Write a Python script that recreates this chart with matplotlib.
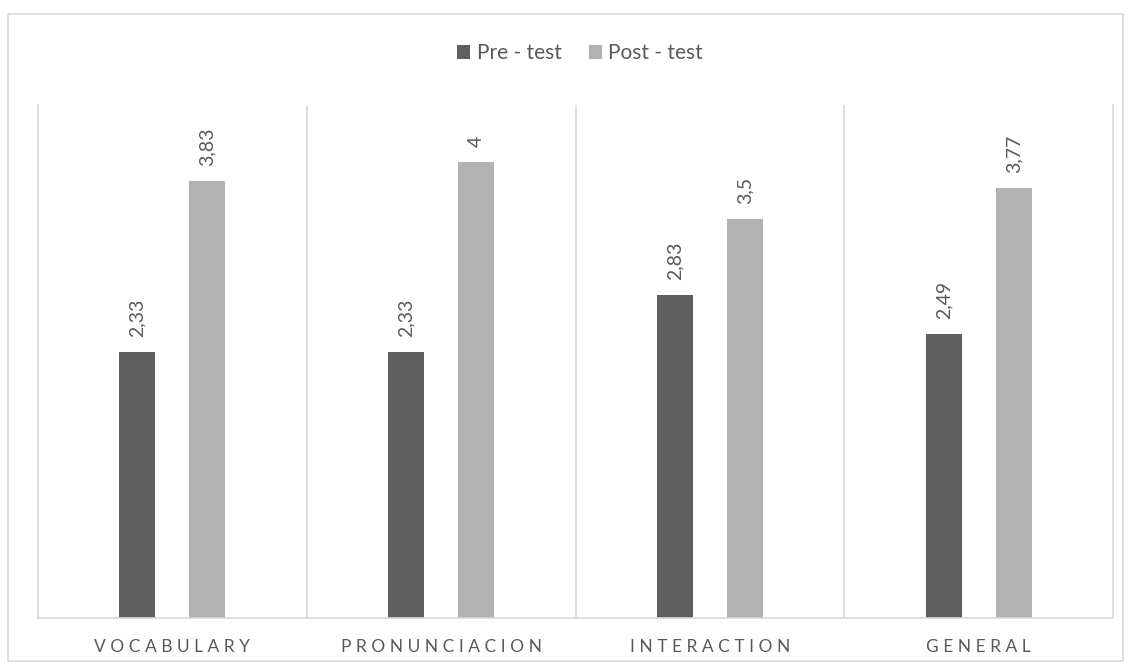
import numpy as np
import matplotlib
matplotlib.use("Agg")
import matplotlib.pyplot as plt
from matplotlib.patches import Rectangle

plt.rcParams["font.family"] = ["Lato", "DejaVu Sans"]

categories = ["VOCABULARY", "PRONUNCIACION", "INTERACTION", "GENERAL"]
pre_test = [2.33, 2.33, 2.83, 2.49]
post_test = [3.83, 4.0, 3.5, 3.77]
series_names = ["Pre - test", "Post - test"]

DARK = "#5f5f5f"
LIGHT = "#b2b2b2"
GRID = "#d9d9d9"
TEXT = "#595959"

W, H = 1131, 669
fig = plt.figure(figsize=(W / 100, H / 100), dpi=100)

# chart border
fig.patches.append(Rectangle((8 / W, 1 - 661 / H), 1115 / W, 647 / H,
                             transform=fig.transFigure, fill=False,
                             edgecolor=GRID, linewidth=1.2))

ax = fig.add_axes([38 / W, 1 - 618 / H, 1075 / W, 513 / H])
x = np.arange(len(categories))
bw = 0.134
off = 0.13
b1 = ax.bar(x - off, pre_test, bw, color=DARK, label=series_names[0], zorder=2)
b2 = ax.bar(x + off, post_test, bw, color=LIGHT, label=series_names[1], zorder=2)

def fmt(v):
    s = f"{v:.2f}".rstrip("0").rstrip(".")
    return s.replace(".", ",")

for bars, vals in [(b1, pre_test), (b2, post_test)]:
    for rect, v in zip(bars, vals):
        ax.annotate(fmt(v), (rect.get_x() + rect.get_width() / 2, v),
                    xytext=(0, 11), textcoords="offset points",
                    rotation=90, ha="center", va="bottom",
                    fontsize=14, color=TEXT)

ax.set_xlim(-0.5, len(categories) - 0.5)
ax.set_ylim(0, 4.5)
ax.set_yticks([])
ax.set_xticks(x)
ax.set_xticklabels([" ".join(c) for c in categories], fontsize=12.5, color=TEXT)
ax.tick_params(axis="x", length=0, pad=15)
for s in x[:-1]:
    ax.axvline(s + 0.5, color=GRID, linewidth=1.2, zorder=1)
ax.spines["top"].set_visible(False)
for side in ["left", "right", "bottom"]:
    ax.spines[side].set_color(GRID)
    ax.spines[side].set_linewidth(1.2)

leg = fig.legend(loc="center", bbox_to_anchor=(580 / W, 1 - 53 / H), ncol=2,
                 frameon=False, fontsize=15, handlelength=0.65, handleheight=0.65,
                 handletextpad=0.3, columnspacing=1.3)
for t in leg.get_texts():
    t.set_color(TEXT)

fig.savefig("out.png", dpi=100)
